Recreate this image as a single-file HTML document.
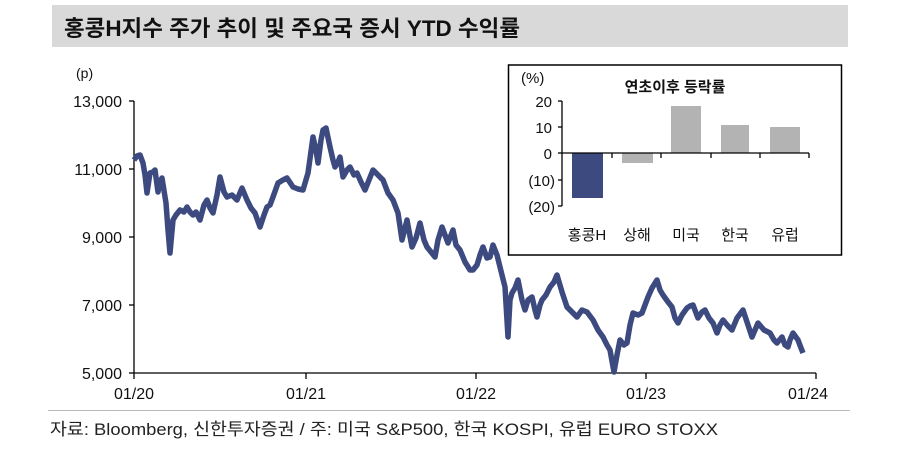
<!DOCTYPE html>
<html><head><meta charset="utf-8"><style>
body{margin:0;background:#fff;}
svg text{font-family:"Liberation Sans","Noto Sans CJK KR",sans-serif;}
</style></head><body>
<svg width="900" height="450" viewBox="0 0 900 450" xmlns="http://www.w3.org/2000/svg">
<rect x="52" y="5" width="796" height="42" fill="#d9d9d9"/>
<text x="64" y="36" font-size="22" font-weight="bold" fill="#111" textLength="456" lengthAdjust="spacingAndGlyphs">홍콩H지수 주가 추이 및 주요국 증시 YTD 수익률</text>
<!-- main axes -->
<g stroke="#000" stroke-width="1.3" fill="none">
<line x1="134" y1="101" x2="134" y2="373"/>
<line x1="134" y1="373" x2="816" y2="373"/>
<line x1="129" y1="101" x2="134" y2="101"/><line x1="129" y1="169" x2="134" y2="169"/>
<line x1="129" y1="237" x2="134" y2="237"/><line x1="129" y1="305" x2="134" y2="305"/>
<line x1="129" y1="373" x2="134" y2="373"/>
<line x1="134" y1="373" x2="134" y2="379"/><line x1="306" y1="373" x2="306" y2="379"/>
<line x1="476" y1="373" x2="476" y2="379"/><line x1="646" y1="373" x2="646" y2="379"/>
<line x1="816" y1="373" x2="816" y2="379"/>
</g>
<g font-size="16" fill="#111" text-anchor="end">
<text x="122" y="107">13,000</text><text x="122" y="175">11,000</text>
<text x="122" y="243">9,000</text><text x="122" y="311">7,000</text><text x="122" y="379">5,000</text>
</g>
<text x="76" y="78" font-size="14" fill="#111">(p)</text>
<g font-size="16" fill="#111" text-anchor="middle">
<text x="134" y="399">01/20</text><text x="306" y="399">01/21</text><text x="476" y="399">01/22</text>
<text x="646" y="399">01/23</text><text x="808" y="399">01/24</text>
</g>
<polyline fill="none" stroke="#3c4a80" stroke-width="5.5" stroke-linejoin="round" points="134,160 137,156 140,155 143,163 145,175 147,193 150,173 153,172 155,170 158,192 160,182 162,178 166,203 168,230 170,253 173,220 176,215 180,210 184,212 187,207 190,212 193,215 196,212 200,220 204,205 207,200 210,208 213,213 217,195 220,177 224,192 227,197 232,195 237,200 242,188 247,200 251,208 255,213 260,227 264,215 267,207 270,205 273,197 278,183 283,180 287,178 293,187 298,189 303,190 308,173 313,137 316,150 318,163 321,140 323,130 326,128 330,147 333,160 335,167 338,162 340,157 343,177 347,170 350,167 354,175 357,173 361,182 365,190 369,180 373,170 378,175 383,180 388,193 393,200 398,213 402,240 407,220 412,247 416,238 420,223 424,240 427,247 431,252 435,257 438,240 442,227 448,243 453,230 456,245 460,250 465,262 470,270 473,270 477,265 480,255 483,247 487,258 490,257 493,245 497,255 500,267 505,287 508,337 510,300 512,293 515,288 518,280 522,300 525,310 528,300 532,297 535,310 537,317 540,305 542,300 546,295 550,287 554,282 557,275 562,292 567,307 572,312 577,317 582,310 587,312 593,320 598,330 603,337 607,345 610,350 614,372 617,355 620,340 624,345 627,343 630,325 633,313 638,315 642,313 645,305 648,297 652,288 657,280 660,290 663,295 668,302 672,307 675,318 678,323 682,315 687,308 690,306 693,305 698,318 702,312 705,310 709,318 713,323 717,333 720,325 723,320 728,326 732,330 737,318 743,310 748,325 752,337 755,330 758,323 764,330 770,333 774,340 777,343 782,337 785,345 788,347 790,340 793,333 798,340 801,348 803,353"/>
<!-- inset -->
<rect x="508.5" y="65" width="333" height="190" fill="#fff" stroke="#000" stroke-width="1.5"/>
<text x="521" y="83" font-size="15" fill="#111">(%)</text>
<text x="675" y="92" font-size="15" font-weight="bold" fill="#111" text-anchor="middle">연초이후 등락률</text>
<rect x="572" y="153" width="31" height="45" fill="#3c4a80"/>
<rect x="622" y="153" width="31" height="10" fill="#b3b3b3"/>
<rect x="671" y="106" width="30" height="47" fill="#b3b3b3"/>
<rect x="721" y="125" width="28" height="28" fill="#b3b3b3"/>
<rect x="770" y="127" width="30" height="26" fill="#b3b3b3"/>
<g stroke="#000" stroke-width="1.3">
<line x1="562" y1="101" x2="562" y2="206"/>
<line x1="562" y1="153" x2="809" y2="153"/>
<line x1="558" y1="101" x2="562" y2="101"/><line x1="558" y1="127" x2="562" y2="127"/>
<line x1="558" y1="153" x2="562" y2="153"/><line x1="558" y1="180" x2="562" y2="180"/>
<line x1="558" y1="206" x2="562" y2="206"/>
<line x1="612" y1="153" x2="612" y2="158"/><line x1="661" y1="153" x2="661" y2="158"/>
<line x1="711" y1="153" x2="711" y2="158"/><line x1="760" y1="153" x2="760" y2="158"/>
<line x1="809" y1="153" x2="809" y2="158"/>
</g>
<g font-size="15" fill="#111" text-anchor="end">
<text x="552" y="107">20</text><text x="552" y="133">10</text><text x="552" y="159">0</text>
<text x="555" y="186">(10)</text><text x="555" y="212">(20)</text>
</g>
<g font-size="15" fill="#111" text-anchor="middle">
<text x="587" y="240">홍콩H</text><text x="637" y="240">상해</text><text x="686" y="240">미국</text>
<text x="735" y="240">한국</text><text x="785" y="240">유럽</text>
</g>
<line x1="48" y1="410.5" x2="850" y2="410.5" stroke="#bbb" stroke-width="1"/>
<text x="50" y="435" font-size="17" fill="#222" textLength="668" lengthAdjust="spacingAndGlyphs">자료: Bloomberg, 신한투자증권 / 주: 미국 S&amp;P500, 한국 KOSPI, 유럽 EURO STOXX</text>
</svg>
</body></html>
